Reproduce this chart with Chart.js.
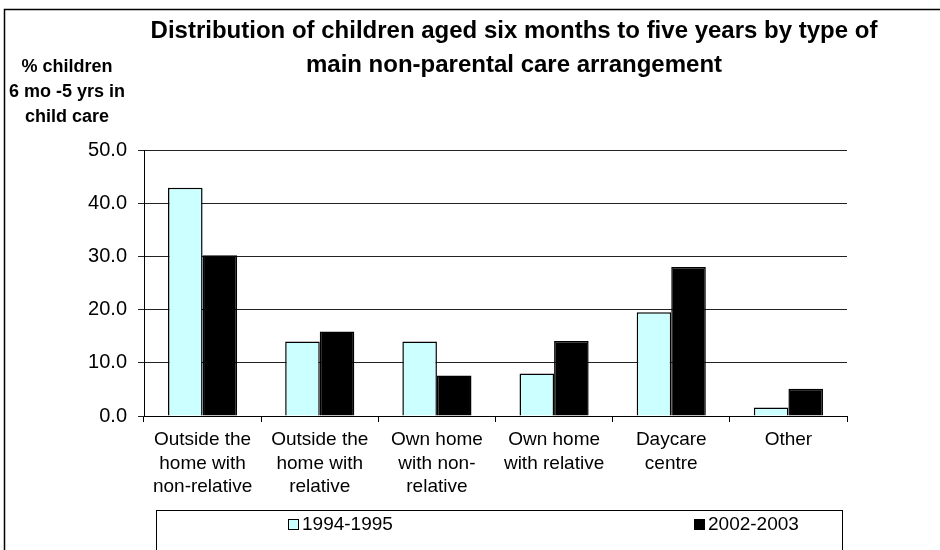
<!DOCTYPE html>
<html>
<head>
<meta charset="utf-8">
<script src="https://cdn.jsdelivr.net/npm/chart.js@4/dist/chart.umd.min.js"></script>
<style>
  html, body { margin: 0; padding: 0; background: #fff; }
  #wrap { width: 940px; height: 550px; }
</style>
</head>
<body>
<div id="wrap"><canvas id="care" width="940" height="550"></canvas></div>
<script>
// Data
const categories = [
  ["Outside the", "home with", "non-relative"],
  ["Outside the", "home with", "relative"],
  ["Own home", "with non-", "relative"],
  ["Own home", "with relative"],
  ["Daycare", "centre"],
  ["Other"]
];
const seriesNames = ["1994-1995", "2002-2003"];
const values1994 = [42.9, 14.0, 14.0, 8.0, 19.5, 1.6];
const values2002 = [30.2, 15.9, 7.6, 14.1, 28.0, 5.1];
const yTicks = [0, 10, 20, 30, 40, 50];

const titleLines = [
  "Distribution of children aged six months to five years by type of",
  "main non-parental care arrangement"
];
const yTitleLines = ["% children", "6 mo -5 yrs in", "child care"];

const FONT = "'Liberation Sans', Arial, sans-serif";
const lightCyan = "#CCFFFF";

// frame, titles and the boxed legend
const decor = {
  id: "decor",
  beforeDraw(chart) {
    const c = chart.ctx;
    c.save();
    c.fillStyle = "#fff";
    c.fillRect(0, 0, chart.width, chart.height);
    c.strokeStyle = "#000";
    c.lineWidth = 1.5;
    c.beginPath();
    c.moveTo(4.5, chart.height);
    c.lineTo(4.5, 9.5);
    c.lineTo(chart.width, 9.5);
    c.stroke();
    c.restore();
  },
  afterDraw(chart) {
    const c = chart.ctx;
    c.save();
    c.fillStyle = "#000";
    c.textAlign = "center";
    c.textBaseline = "middle";
    c.font = "bold 24px " + FONT;
    titleLines.forEach((t, i) => c.fillText(t, 514, 31 + i * 34));
    c.font = "bold 18px " + FONT;
    yTitleLines.forEach((t, i) => c.fillText(t, 67, 67 + i * 25));

    // legend
    c.strokeStyle = "#000";
    c.lineWidth = 1;
    c.strokeRect(156.5, 510.5, 686, 40);
    c.font = "19px " + FONT;
    c.textAlign = "left";
    const xs = [288, 694];
    chart.data.datasets.forEach((ds, i) => {
      c.fillStyle = ds.backgroundColor;
      c.fillRect(xs[i], 519, 11, 11);
      c.strokeStyle = "#000";
      c.strokeRect(xs[i] + 0.5, 519.5, 10, 10);
      c.fillStyle = "#000";
      c.fillText(ds.label, xs[i] + 14, 525);
    });
    c.restore();
  }
};

new Chart(document.getElementById("care"), {
  type: "bar",
  data: {
    labels: categories,
    datasets: [
      {
        label: seriesNames[0],
        data: values1994,
        backgroundColor: lightCyan,
        borderColor: "#000",
        borderWidth: 1.5
      },
      {
        label: seriesNames[1],
        data: values2002,
        backgroundColor: "#000",
        borderColor: "#000",
        borderWidth: 1.5
      }
    ]
  },
  plugins: [decor],
  options: {
    responsive: false,
    animation: false,
    devicePixelRatio: 1,
    layout: { padding: { top: 150, right: 93, bottom: 0, left: 0 } },
    datasets: {
      bar: { categoryPercentage: 0.59, barPercentage: 1.0 }
    },
    plugins: {
      legend: { display: false },
      title: { display: false },
      tooltip: { enabled: false }
    },
    scales: {
      x: {
        afterFit: (scale) => { scale.height = 134; },
        grid: {
          offset: true,
          drawOnChartArea: false,
          drawTicks: true,
          tickLength: 6,
          color: "#000"
        },
        border: { display: true, color: "#000", width: 1 },
        ticks: {
          color: "#000",
          font: { family: FONT, size: 19, lineHeight: 1.24 },
          padding: 6,
          maxRotation: 0,
          autoSkip: false
        }
      },
      y: {
        min: 0,
        max: 50,
        afterFit: (scale) => { scale.width = 144; },
        afterBuildTicks: (scale) => { scale.ticks = yTicks.map((v) => ({ value: v })); },
        grid: {
          color: "#222",
          lineWidth: 1,
          drawTicks: true,
          tickLength: 6
        },
        border: { display: true, color: "#000", width: 1 },
        ticks: {
          color: "#000",
          font: { family: FONT, size: 20 },
          padding: 11,
          callback: (v) => Number(v).toFixed(1)
        }
      }
    }
  }
});
</script>
</body>
</html>
